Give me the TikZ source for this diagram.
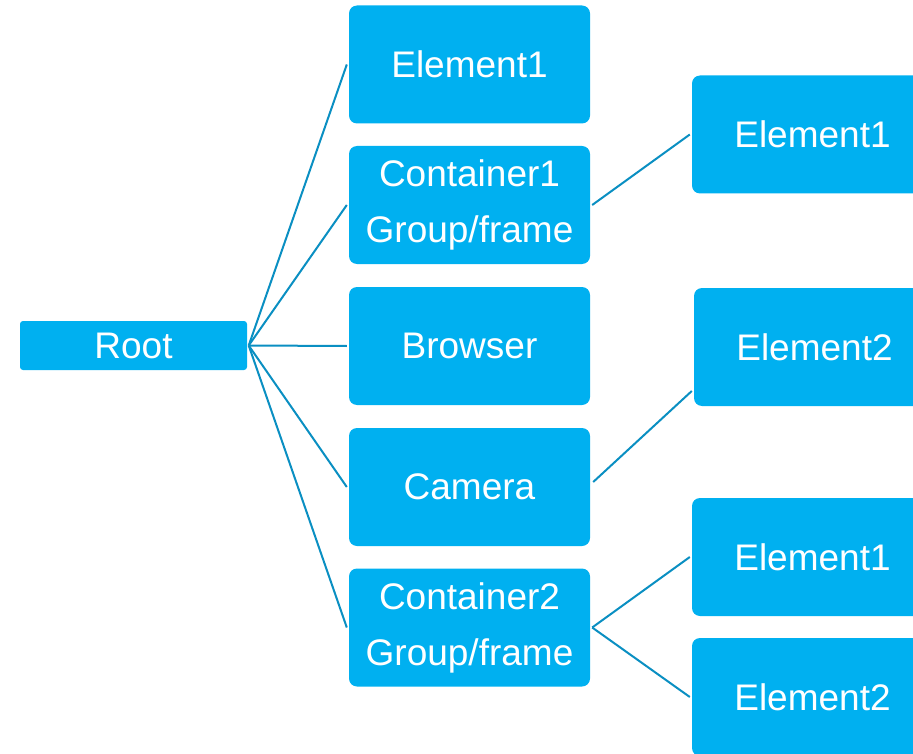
\documentclass[tikz,border=0pt]{standalone}
\usepackage{fontspec}
\setmainfont{Liberation Sans}
\definecolor{boxblue}{HTML}{00B0F0}
\definecolor{lineblue}{HTML}{0A8FC2}
\begin{document}
\begin{tikzpicture}[x=1pt,y=-1pt,
  box/.style={fill=boxblue,draw=none,rounded corners=8pt,text=white,align=center,
    font=\fontsize{37}{56}\selectfont,inner sep=0pt,minimum width=241pt,minimum height=118pt},
  rootbox/.style={fill=boxblue,draw=none,rounded corners=3pt,text=white,
    font=\fontsize{37}{42}\selectfont,inner sep=0pt,minimum width=227pt,minimum height=49pt},
  link/.style={draw=lineblue,line width=2pt}]
\useasboundingbox (0,0) rectangle (913,754);
\clip (0,0) rectangle (913,754);
\node[rootbox] (root) at (133.5,345.5) {Root};
\node[box] (m1) at (469.5,64.5) {Element1};
\node[box] (m2) at (469.5,205) {Container1\\Group/frame};
\node[box] (m3) at (469.5,346) {Browser};
\node[box] (m4) at (469.5,487) {Camera};
\node[box] (m5) at (469.5,627.5) {Container2\\Group/frame};
\node[box] (r1) at (812.5,134.5) {Element1};
\node[box] (r2) at (814.5,347) {Element2};
\node[box] (r3) at (812.5,557) {Element1};
\node[box] (r4) at (812.5,697) {Element2};
\coordinate (rootR) at ([xshift=1.5pt]root.east);
\foreach \m in {m1,m2,m3,m4,m5}{
  \draw[link] (rootR) -- ([xshift=-2pt]\m.west);
}
\draw[link] ([xshift=2pt]m2.east) -- ([xshift=-2pt]r1.west);
\draw[link] ([xshift=3pt,yshift=5pt]m4.east) -- ([xshift=-2pt,yshift=-44pt]r2.west);
\draw[link] ([xshift=2pt]m5.east) -- ([xshift=-2pt]r3.west);
\draw[link] ([xshift=2pt]m5.east) -- ([xshift=-2pt]r4.west);
\end{tikzpicture}
\end{document}
